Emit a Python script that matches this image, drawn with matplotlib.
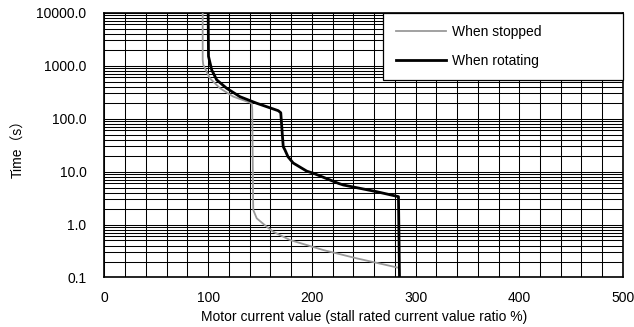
import matplotlib
matplotlib.use("Agg")
import matplotlib.pyplot as plt
from matplotlib.ticker import FixedLocator, NullFormatter

plt.rcParams['font.family'] = ['Liberation Sans', 'Noto Sans CJK JP', 'DejaVu Sans']

# Data
stopped_x = [94.7, 94.7, 95.2, 96.9, 101.7, 111.4, 124.2, 134.0, 142.0, 142.5, 143.3, 143.5,
             146.8, 156.4, 162.8, 178.9, 211.0, 243.2, 283.3]
stopped_t = [10000, 1300, 1050, 890, 575, 374, 260, 222, 195, 150, 3.0, 1.88,
             1.31, 0.91, 0.73, 0.51, 0.33, 0.23, 0.153]

rotating_x = [100.0, 100.3, 103.4, 108.2, 117.8, 130.7, 146.8, 167.6, 170.0, 171.5, 172.4,
              174.0, 177.0, 182.0, 195.0, 201.4, 225.5, 230.3, 262.5, 283.5, 284.5]
rotating_t = [10000, 1500, 830, 540, 374, 259, 195, 141, 129, 50, 29.5,
              25.7, 19.0, 14.5, 10.2, 9.3, 6.0, 5.58, 4.17, 3.36, 0.1]

series_labels = ["When stopped", "When rotating"]
x_ticks = [0, 100, 200, 300, 400, 500]
x_tick_labels = ["0", "100", "200", "300", "400", "500"]
x_minor = list(range(0, 501, 20))
y_ticks = [0.1, 1, 10, 100, 1000, 10000]
y_tick_labels = ["0.1", "1.0", "10.0", "100.0", "1000.0", "10000.0"]
x_label = "Motor current value (stall rated current value ratio %)"
y_label = "Time\uff08s\uff09"

fig = plt.figure(figsize=(6.34, 3.27), dpi=100)
ax = fig.add_axes([0.1648, 0.1514, 0.8178, 0.8098])

ax.set_yscale('log')
ax.set_xlim(0, 500)
ax.set_ylim(0.1, 10000)

ax.xaxis.set_major_locator(FixedLocator(x_ticks))
ax.xaxis.set_minor_locator(FixedLocator(x_minor))
ax.set_xticklabels(x_tick_labels)
ax.xaxis.set_minor_formatter(NullFormatter())
ax.set_yticks(y_ticks)
ax.set_yticklabels(y_tick_labels)
ax.yaxis.set_minor_formatter(NullFormatter())

ax.grid(True, which='both', axis='both', color='black', linewidth=0.75)
ax.set_axisbelow(True)

ax.tick_params(which='both', length=0)
ax.tick_params(axis='x', pad=10, labelsize=10)
ax.tick_params(axis='y', pad=13, labelsize=10)

for s in ax.spines.values():
    s.set_linewidth(1.2)
    s.set_color('black')

ax.plot(stopped_x, stopped_t, color='#9a9a9a', linewidth=1.3, label=series_labels[0], zorder=3)
ax.plot(rotating_x, rotating_t, color='black', linewidth=2.0, label=series_labels[1], zorder=4)

ax.set_xlabel(x_label, fontsize=10, labelpad=3)
ax.set_ylabel(y_label, fontsize=10, labelpad=8)

leg = ax.legend(loc='upper left', bbox_to_anchor=(0.5377, 0.746, 0.4623, 0.254), mode='expand',
                fancybox=False, frameon=True, edgecolor='black', framealpha=1.0,
                fontsize=10, borderpad=0.9, labelspacing=1.05, handlelength=3.6,
                handletextpad=0.45, borderaxespad=0)
leg.get_frame().set_linewidth(0.9)
leg.set_zorder(10)

fig.savefig("out.png", dpi=100)
